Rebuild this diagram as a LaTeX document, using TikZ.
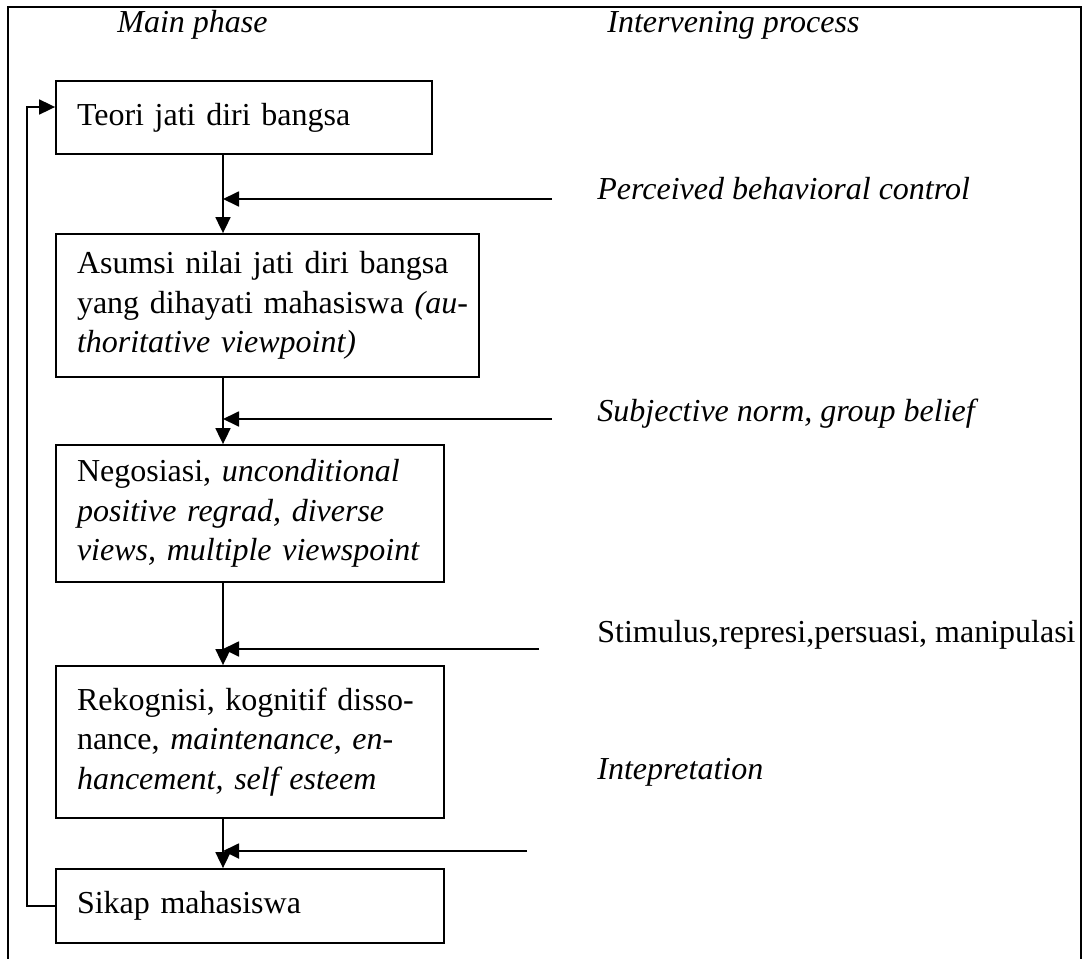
\documentclass[tikz,border=0pt]{standalone}
\usepackage{fontspec}
\setmainfont{Liberation Serif}
\usetikzlibrary{arrows.meta,calc}

\tikzset{
  stage/.style={draw, line width=0.9pt, inner sep=0pt, align=left,
    font=\fontsize{16}{19.75}\selectfont},
  tag/.style={anchor=base west, inner sep=0pt, font=\fontsize{16}{19.75}\selectfont},
  flow/.style={line width=0.9pt, -{Triangle[length=8pt,width=7.5pt]}},
  frame/.style={line width=1.2pt}
}

\begin{document}
\begin{tikzpicture}[x=0.5pt,y=-0.5pt]
  \useasboundingbox (0,0) rectangle (1083,959);
  % outer frame (its lower edge runs off the page)
  \draw[frame] (8,7) rectangle (1081,975);

  % column headings
  \node[tag] (hmain) at (117,32) {\itshape Main phase};
  \node[tag] (hint)  at (607,32) {\itshape Intervening process};

  % main phase boxes
  \node[stage, minimum width=188pt, minimum height=36.5pt, text width=167pt]
    (b1) at (244,117.5) {Teori jati diri bangsa};
  \node[stage, minimum width=211.5pt, minimum height=71.5pt, text width=190.5pt]
    (b2) at (267.5,305.5)
    {\makebox[190.5pt][s]{Asumsi nilai jati diri bangsa}\\
     \makebox[190.5pt][s]{yang dihayati mahasiswa \textit{(au-}}\\
     \textit{thoritative viewpoint)}};
  \node[stage, minimum width=194pt, minimum height=68.5pt, text width=173pt]
    (b3) at (250,513.5)
    {Negosiasi, \textit{unconditional}\\
     \textit{positive regrad, diverse}\\
     \textit{views, multiple viewspoint}};
  \node[stage, minimum width=194pt, minimum height=76pt, text width=173pt]
    (b4) at (250,742)
    {Rekognisi, kognitif disso-\\
     nance, \textit{maintenance, en-}\\
     \textit{hancement, self esteem}};
  \node[stage, minimum width=194pt, minimum height=37pt, text width=173pt]
    (b5) at (250,906) {Sikap mahasiswa};

  % vertical flow line and loop-back column
  \coordinate (spine) at (223,0);
  \coordinate (loop) at (27,107);

  \draw[flow] (b1.south -| spine) -- (b2.north -| spine);
  \draw[flow] (b2.south -| spine) -- (b3.north -| spine);
  \draw[flow] (b3.south -| spine) -- (b4.north -| spine);
  \draw[flow] (b4.south -| spine) -- (b5.north -| spine);

  % feedback from the attitude back to the theory
  \draw[flow] (b5.west) -| (loop) -- (loop -| b1.west);

  % intervening processes
  \node[tag] (p1) at (597,199) {\itshape Perceived behavioral control};
  \node[tag] (p2) at (597,421) {\itshape Subjective norm, group belief};
  \node[tag] (p3) at (597,642) {Stimulus,represi,persuasi, manipulasi};
  \node[tag] (p4) at (597,779) {\itshape Intepretation};

  \coordinate (s1) at (552,199);
  \coordinate (s2) at (552,419);
  \coordinate (s3) at (539,649);
  \coordinate (s4) at (527,851);

  \draw[flow] (s1) -- (s1 -| spine);
  \draw[flow] (s2) -- (s2 -| spine);
  \draw[flow] (s3) -- (s3 -| spine);
  \draw[flow] (s4) -- (s4 -| spine);
\end{tikzpicture}
\end{document}
